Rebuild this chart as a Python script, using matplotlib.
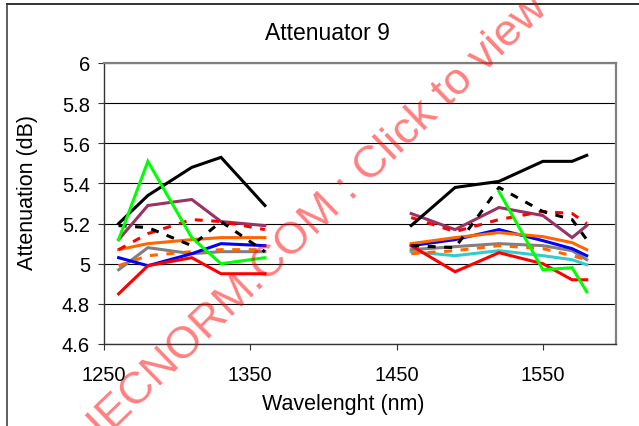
import numpy as np
import matplotlib
matplotlib.use("Agg")
import matplotlib.pyplot as plt
from matplotlib.lines import Line2D

plt.rcParams['font.family'] = ['Liberation Sans', 'DejaVu Sans']

# longueurs d'onde des deux groupes de mesures
wl_o = [1260, 1280, 1310, 1330, 1360]
wl_s = [1460, 1490, 1520, 1550, 1570, 1580]

nan = np.nan

# valeurs (dB), groupe gauche / groupe droit
cyan_l = [nan, nan, nan, nan, nan]
cyan_r = [5.06, 5.04, 5.065, 5.04, 5.02, 4.995]
gray_l = [4.97, 5.08, 5.05, 5.06, 5.06]
gray_r = [5.07, 5.085, 5.10, 5.09, 5.065, 5.02]
orange_dash_l = [4.99, 5.04, 5.06, 5.07, 5.07]
orange_dash_r = [5.05, 5.065, 5.09, 5.075, 5.04, 5.02]
blue_l = [5.03, 4.99, 5.05, 5.10, 5.09]
blue_r = [5.09, 5.12, 5.17, 5.115, 5.075, 5.04]
orange_l = [5.07, 5.10, 5.12, 5.13, 5.13]
orange_r = [5.10, 5.13, 5.155, 5.135, 5.105, 5.07]
red_l = [4.85, 4.99, 5.03, 4.95, 4.95]
red_r = [5.09, 4.96, 5.055, 5.00, 4.92, 4.92]
purple_l = [5.12, 5.29, 5.32, 5.21, 5.19]
purple_r = [5.25, 5.17, 5.28, 5.24, 5.13, 5.19]
red_dash_l = [5.07, 5.15, 5.22, 5.21, 5.17]
red_dash_r = [5.23, 5.16, 5.22, 5.26, 5.25, 5.20]
black_dash_l = [5.19, 5.18, 5.09, 5.21, 5.06]
black_dash_r = [5.09, 5.08, 5.38, 5.26, 5.22, 5.12]
black_l = [5.20, 5.34, 5.48, 5.53, 5.29]
black_r = [5.19, 5.38, 5.41, 5.51, 5.51, 5.54]
green_l = [5.12, 5.51, 5.13, 5.00, 5.03]
green_r = [nan, nan, 5.36, 4.97, 4.98, 4.86]

yticks = [4.6, 4.8, 5, 5.2, 5.4, 5.6, 5.8, 6]
ytick_labels = ["4.6", "4.8", "5", "5.2", "5.4", "5.6", "5.8", "6"]
xticks = [1250, 1350, 1450, 1550]

# (gauche, droite, couleur, pointillé) dans l'ordre de dessin
series = [
    (cyan_l, cyan_r, "#33CCCC", False),
    (gray_l, gray_r, "#808080", False),
    (orange_dash_l, orange_dash_r, "#FF6600", True),
    (blue_l, blue_r, "#0000FF", False),
    (orange_l, orange_r, "#FF6600", False),
    (red_l, red_r, "#FF0000", False),
    (purple_l, purple_r, "#993366", False),
    (red_dash_l, red_dash_r, "#FF0000", True),
    (black_dash_l, black_dash_r, "#000000", True),
    (black_l, black_r, "#000000", False),
    (green_l, green_r, "#00FF00", False),
]

fig = plt.figure(figsize=(6.39, 4.27), dpi=100)
ax = fig.add_axes([104 / 639, 1 - 345 / 427, 512 / 639, 281 / 427])

for left, right, col, dashed in series:
    for xs, ys in ((wl_o, left), (wl_s, right)):
        line, = ax.plot(xs, ys, color=col, lw=2.2, solid_joinstyle="miter")
        if dashed:
            line.set_dashes((2.6, 2.8))

ax.set_xlim(1250, 1600)
ax.set_ylim(4.6, 6)
ax.set_yticks(yticks)
ax.set_yticklabels(ytick_labels)
ax.set_xticks(xticks)
ax.yaxis.grid(True, color="black", lw=0.8)
ax.set_axisbelow(True)
ax.tick_params(axis="both", labelsize=14.5, direction="out", length=4, width=0.8, color="#333333")
ax.tick_params(axis="y", pad=6)
ax.tick_params(axis="x", pad=11)

for s in ("top", "right"):
    ax.spines[s].set_color("#808080")
    ax.spines[s].set_linewidth(1.6)
for s in ("left", "bottom"):
    ax.spines[s].set_color("#333333")
    ax.spines[s].set_linewidth(1.0)

fig.text(327 / 639, 1 - 33 / 427, "Attenuator 9", ha="center", va="center", fontsize=16.5)
fig.text(343 / 639, 1 - 405 / 427, "Wavelenght (nm)", ha="center", va="center", fontsize=15.5)
fig.text(28 / 639, 1 - 193 / 427, "Attenuation (dB)", ha="center", va="center",
         rotation=90, fontsize=15.5)

# cadre de la zone graphique (coupé en bas et à droite)
fig.add_artist(Line2D([7 / 639, 1], [1 - 5 / 427, 1 - 5 / 427], color="#333333", lw=1.4))
fig.add_artist(Line2D([7 / 639, 7 / 639], [0, 1 - 5 / 427], color="#333333", lw=1.1))

# filigrane
fig.text(104 / 639, 1 - 440 / 427, "IECNORM.COM : Click to view",
         rotation=44, rotation_mode="anchor", ha="left", va="baseline",
         fontsize=32.5, color="#FF0000", alpha=0.5)

fig.savefig("out.png", dpi=100)
